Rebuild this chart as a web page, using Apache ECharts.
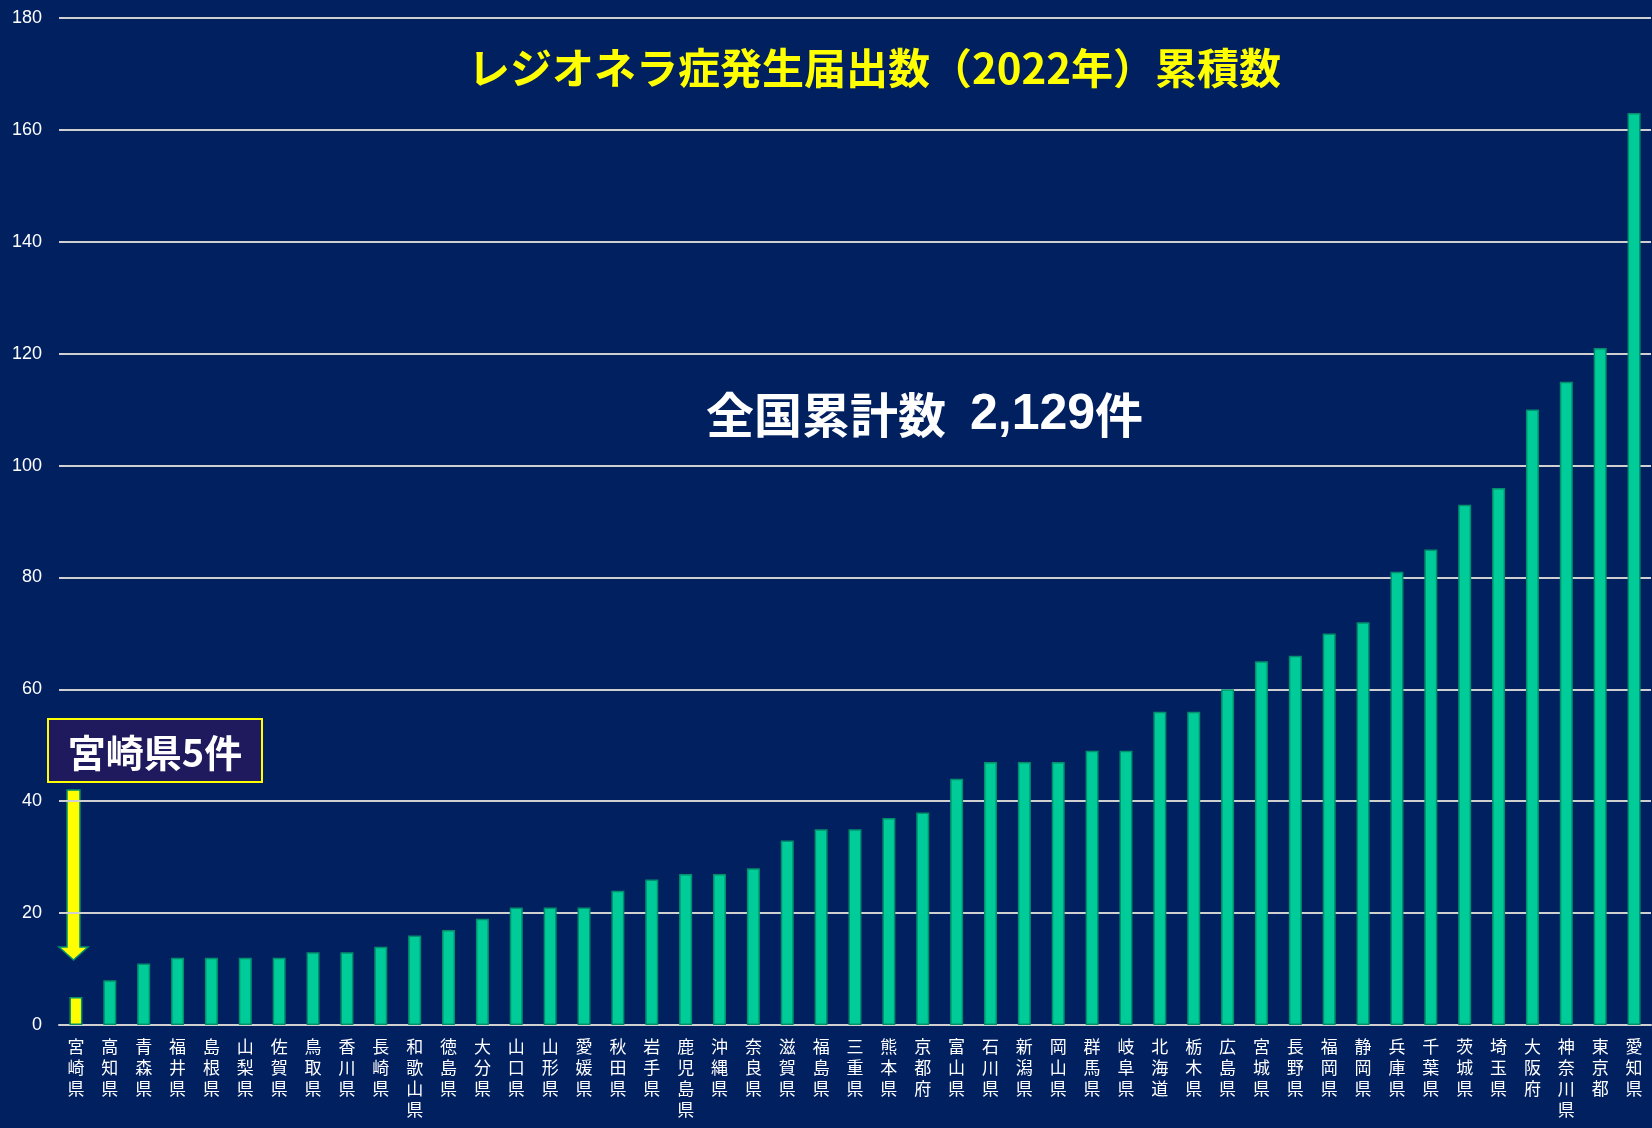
<!DOCTYPE html>
<html>
<head>
<meta charset="utf-8">
<title>レジオネラ症発生届出数（2022年）累積数</title>
<script src="https://cdn.jsdelivr.net/npm/echarts@6/dist/echarts.min.js"></script>
<style>
	html, body { margin: 0; padding: 0; background: #002060; }
	#chart { width: 1652px; height: 1128px; }
</style>
</head>
<body>
<div id="chart"></div>
<script>
// 都道府県（少ない順）
var prefectures = [
	"宮崎県", "高知県", "青森県", "福井県", "島根県", "山梨県", "佐賀県", "鳥取県",
	"香川県", "長崎県", "和歌山県", "徳島県", "大分県", "山口県", "山形県", "愛媛県",
	"秋田県", "岩手県", "鹿児島県", "沖縄県", "奈良県", "滋賀県", "福島県", "三重県",
	"熊本県", "京都府", "富山県", "石川県", "新潟県", "岡山県", "群馬県", "岐阜県",
	"北海道", "栃木県", "広島県", "宮城県", "長野県", "福岡県", "静岡県", "兵庫県",
	"千葉県", "茨城県", "埼玉県", "大阪府", "神奈川県", "東京都", "愛知県"
];
// 届出数（累積）
var counts = [
	5, 8, 11, 12, 12, 12, 12, 13,
	13, 14, 16, 17, 19, 21, 21, 21,
	24, 26, 27, 27, 28, 33, 35, 35,
	37, 38, 44, 47, 47, 47, 49, 49,
	56, 56, 60, 65, 66, 70, 72, 81,
	85, 93, 96, 110, 115, 121, 163
];
var yTicks = [0, 20, 40, 60, 80, 100, 120, 140, 160, 180];
var highlightName = "宮崎県";
var titleText = "レジオネラ症発生届出数（2022年）累積数";
var totalLabel = "全国累計数";
var totalValue = "2,129";
var calloutText = "宮崎県5件";

var myChart = echarts.init(document.getElementById("chart"));

var barData = counts.map(function (v, i) {
	if (prefectures[i] === highlightName) {
		return { value: v, itemStyle: { color: "#FFFF00" } };
	}
	return v;
});

var option = {
	backgroundColor: "#002060",
	animation: false,
	title: {
		text: titleText,
		left: 463,
		top: 42,
		textStyle: {
			color: "#FFFF00",
			fontSize: 42,
			fontWeight: "bold",
			fontFamily: "Noto Sans CJK JP"
		}
	},
	grid: {
		left: 59,
		right: 1,
		top: 18,
		bottom: 103,
		containLabel: false
	},
	xAxis: {
		type: "category",
		data: prefectures,
		axisLine: { lineStyle: { color: "#D0D0D0", width: 2 } },
		axisTick: { show: false },
		axisLabel: {
			interval: 0,
			color: "#FFFFFF",
			fontSize: 17,
			lineHeight: 21,
			margin: 11,
			fontFamily: "Noto Sans CJK JP",
			formatter: function (v) {
				return v.split("").join("\n"); //縦書き
			}
		}
	},
	yAxis: {
		type: "value",
		min: yTicks[0],
		max: yTicks[yTicks.length - 1],
		interval: yTicks[1] - yTicks[0],
		axisLine: { show: false },
		axisTick: { show: false },
		splitLine: { lineStyle: { color: "#D0D0D0", width: 2 } },
		axisLabel: {
			color: "#FFFFFF",
			fontSize: 18,
			margin: 17,
			fontFamily: "'Liberation Sans Narrow', 'Arial Narrow', 'Liberation Sans', sans-serif"
		}
	},
	series: [
		{
			type: "bar",
			data: barData,
			barWidth: 13,
			itemStyle: {
				color: "#00CC99",
				borderColor: "#00906C",
				borderWidth: 1.5
			}
		}
	],
	graphic: [
		// 全国累計数
		{
			type: "text",
			left: 706,
			top: 390,
			style: {
				text: "{a|" + totalLabel + "}{s| }{b|" + totalValue + "}{a|件}",
				fill: "#FFFFFF",
				rich: {
					a: { fill: "#FFFFFF", font: "bold 48px 'Noto Sans CJK JP'" },
					s: { width: 24 },
					b: { fill: "#FFFFFF", font: "bold 50px 'Liberation Sans'" }
				}
			}
		},
		// 宮崎県の吹き出し
		{
			type: "rect",
			shape: { x: 48, y: 719, width: 214, height: 63 },
			style: { fill: "#1F1A5E", stroke: "#FFFF00", lineWidth: 2 }
		},
		{
			type: "text",
			x: 155,
			y: 753,
			style: {
				text: calloutText,
				fill: "#FFFFFF",
				font: "bold 38px 'Noto Sans CJK JP'",
				align: "center",
				verticalAlign: "middle"
			}
		},
		// 下向き矢印
		{
			type: "polygon",
			shape: {
				points: [[67, 790], [80, 790], [80, 947], [88, 947], [73.5, 960], [59, 947], [67, 947]]
			},
			style: { fill: "#FFFF00", stroke: "#00906C", lineWidth: 1.5 }
		}
	]
};

myChart.setOption(option, true);
window.addEventListener("resize", function () {
	myChart.resize();
});
</script>
</body>
</html>
